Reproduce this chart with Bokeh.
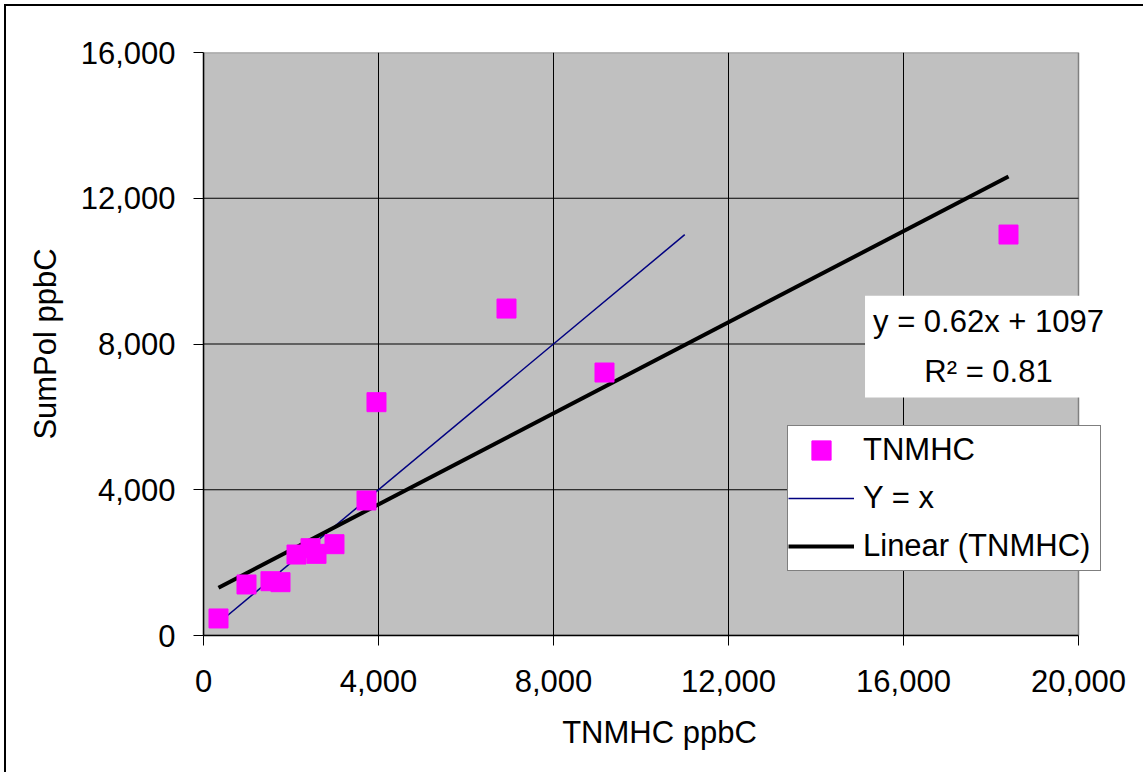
from bokeh.plotting import figure
from bokeh.layouts import column
from bokeh.models import FixedTicker, NumeralTickFormatter, Label, Legend, LegendItem, ColumnDataSource
from bokeh.embed import file_html
from bokeh.resources import INLINE

# Data
tnmhc = [343, 983, 1531, 1760, 2126, 2446, 2583, 2994, 3726, 3954, 6926, 9166, 18400]
sumpol = [467, 1400, 1490, 1463, 2222, 2396, 2241, 2506, 3705, 6403, 8973, 7217, 11004]
yx_x = [343, 11000]
trend_slope = 0.625
trend_intercept = 1097
x_ticks = [0, 4000, 8000, 12000, 16000, 20000]
y_ticks = [0, 4000, 8000, 12000, 16000]
eq_text = "y = 0.62x + 1097\nR\u00b2 = 0.81"

FONT = "Liberation Sans"
FS = "31px"

PLOT_W = 875          # width of the gray plot area in px
FRAME_W = 912         # frame extended to the right so legend / label are not clipped
x_end = x_ticks[-1] * FRAME_W / PLOT_W

p = figure(width=1137, height=766, frame_width=FRAME_W, frame_height=583,
           min_border_left=197, min_border_right=28, min_border_top=46, min_border_bottom=137,
           x_range=(x_ticks[0], x_end), y_range=(y_ticks[0], y_ticks[-1]),
           output_backend="svg", toolbar_location=None,
           background_fill_color="white", border_fill_color="white")

p.outline_line_color = None
p.xgrid.visible = False
p.ygrid.visible = False

for ax in (p.xaxis[0], p.yaxis[0]):
    ax.axis_line_color = "black"
    ax.axis_line_width = 1.5
    ax.major_tick_in = 0
    ax.major_tick_out = 10
    ax.major_tick_line_color = "black"
    ax.minor_tick_line_color = None
    ax.major_label_text_font = FONT
    ax.major_label_text_font_size = FS
    ax.major_label_text_color = "black"
    ax.axis_label_text_font = FONT
    ax.axis_label_text_font_size = FS
    ax.axis_label_text_font_style = "normal"
    ax.axis_label_text_color = "black"
    ax.formatter = NumeralTickFormatter(format="0,0")

p.xaxis.ticker = FixedTicker(ticks=x_ticks)
p.yaxis.ticker = FixedTicker(ticks=y_ticks)
p.xaxis.bounds = (x_ticks[0], x_ticks[-1])
p.xaxis.axis_label = "TNMHC ppbC"
p.yaxis.axis_label = "SumPol ppbC"
p.xaxis.major_label_standoff = 24
p.yaxis.major_label_standoff = 18
p.xaxis.axis_label_standoff = 20
p.yaxis.axis_label_standoff = 15

# gray plot area
p.quad(left=[x_ticks[0]], right=[x_ticks[-1]], bottom=[y_ticks[0]], top=[y_ticks[-1]],
       fill_color="#C0C0C0", line_color="#808080", line_width=1.5)

# grid lines (interior ticks only)
gx = x_ticks[1:-1]
p.segment(x0=gx, x1=gx, y0=[y_ticks[0]] * len(gx), y1=[y_ticks[-1]] * len(gx),
          line_color="black", line_width=1)
gy = y_ticks[1:-1]
p.segment(x0=[x_ticks[0]] * len(gy), x1=[x_ticks[-1]] * len(gy), y0=gy, y1=gy,
          line_color="black", line_width=1)

src = ColumnDataSource(data=dict(x=tnmhc, y=sumpol))
tx = [min(tnmhc), max(tnmhc)]
ty = [trend_slope * v + trend_intercept for v in tx]

r_yx = p.line(x=yx_x, y=yx_x, line_color="#000080", line_width=1.5)
r_trend = p.line(x=tx, y=ty, line_color="black", line_width=4)
r_pts = p.scatter(x="x", y="y", source=src, marker="square", size=19,
                  fill_color="#FF00FF", line_color="#FF00FF")

legend = Legend(items=[LegendItem(label="TNMHC", renderers=[r_pts]),
                       LegendItem(label="Y = x", renderers=[r_yx]),
                       LegendItem(label="Linear (TNMHC)", renderers=[r_trend])],
                location=(584, 64))
legend.label_text_font = FONT
legend.label_text_font_size = FS
legend.label_text_color = "black"
legend.border_line_color = "black"
legend.border_line_width = 1
legend.background_fill_color = "white"
legend.background_fill_alpha = 1
legend.glyph_width = 66
legend.glyph_height = 48
legend.label_height = 48
legend.label_width = 237
legend.label_standoff = 9
legend.spacing = 0
legend.padding = 0
legend.margin = 0
p.add_layout(legend)

eq = Label(x=785, y=289, x_units="screen", y_units="screen", text=eq_text,
           text_align="center", text_baseline="middle",
           text_font=FONT, text_font_size=FS, text_color="black",
           text_line_height=1.45,
           background_fill_color="white", padding=8)
p.add_layout(eq)

root = column(p, styles={"border-left": "2px solid black", "border-top": "2px solid black",
                         "margin-left": "4px", "margin-top": "4px"})

open("out.html", "w").write(file_html(root, INLINE))
